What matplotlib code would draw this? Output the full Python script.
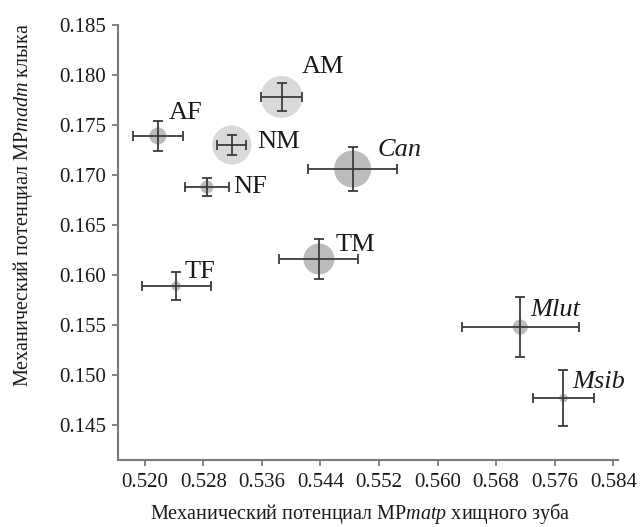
import numpy as np
import matplotlib
matplotlib.use("Agg")
import matplotlib.pyplot as plt

plt.rcParams['font.family'] = ['Liberation Serif', 'DejaVu Serif']
plt.rcParams['mathtext.fontset'] = 'custom'
plt.rcParams['mathtext.rm'] = 'Liberation Serif'
plt.rcParams['mathtext.it'] = 'Liberation Serif:italic'

# groups and values
groups = ['AF', 'AM', 'NM', 'NF', 'TF', 'TM', 'Can', 'Mlut', 'Msib']
matp = [0.5218, 0.5387, 0.5319, 0.5285, 0.5243, 0.5438, 0.5484, 0.5713, 0.5772]
madm = [0.1739, 0.1778, 0.1730, 0.1688, 0.1589, 0.1616, 0.1706, 0.1548, 0.1477]
matp_err = [0.0034, 0.0028, 0.0020, 0.0030, 0.0047, 0.0054, 0.0061, 0.0080, 0.0041]
madm_err = [0.0015, 0.0014, 0.0010, 0.0009, 0.0014, 0.0020, 0.0022, 0.0030, 0.0028]
bubble = [17, 42, 39, 13, 9.5, 31, 37, 15, 8.5]   # circle diameter, px
light = [False, True, True, False, False, False, False, False, False]
italic = [False, False, False, False, False, False, True, True, True]

# label offsets (px) from the point
offsets = {'AF': (11, 17), 'AM': (20, 24), 'NM': (25, -3), 'NF': (26, -6),
           'TF': (8, 8), 'TM': (17, 8), 'Can': (25, 13), 'Mlut': (10, 11),
           'Msib': (9, 10)}

fig = plt.figure(figsize=(6.41, 5.27), dpi=100)
ax = fig.add_axes([0.1846, 0.1271, 0.9636 - 0.1846, 0.9526 - 0.1271])

cols = ['#d9d9d9' if l else '#bcbcbc' for l in light]
sizes = (np.array(bubble) * 0.72) ** 2
ax.scatter(matp, madm, s=sizes, c=cols, edgecolors='none', zorder=2)
ax.errorbar(matp, madm, xerr=matp_err, yerr=madm_err, fmt='none',
            ecolor='#3c3c3c', elinewidth=1.3, capsize=3.5, capthick=1.3, zorder=3)

for i, g in enumerate(groups):
    ax.annotate(g, (matp[i], madm[i]), xytext=offsets[g], textcoords='offset pixels',
                ha='left', va='baseline', fontsize=19, color='#1a1a1a',
                style='italic' if italic[i] else 'normal')

ax.set_xlim(0.5164, 0.5846)
ax.set_ylim(0.1415, 0.185)
ax.set_xticks(np.arange(0.520, 0.5845, 0.008))
ax.set_yticks(np.arange(0.145, 0.1851, 0.005))
ax.xaxis.set_major_formatter(matplotlib.ticker.FormatStrFormatter('%.3f'))
ax.yaxis.set_major_formatter(matplotlib.ticker.FormatStrFormatter('%.3f'))

for s in ['top', 'right']:
    ax.spines[s].set_visible(False)
for s in ['left', 'bottom']:
    ax.spines[s].set_color('#7a7a7a')
    ax.spines[s].set_linewidth(1.5)
ax.tick_params(direction='out', length=4, width=1.3, color='#7a7a7a',
               labelsize=15, labelcolor='#1a1a1a', pad=5)

ax.set_xlabel(r'Механический потенциал MP$\mathit{matp}$ хищного зуба',
              fontsize=14.5, color='#1a1a1a')
ax.set_ylabel(r'Механический потенциал MP$\mathit{madm}$ клыка',
              fontsize=14.5, color='#1a1a1a')
ax.xaxis.set_label_coords(0.485, -0.094)
ax.yaxis.set_label_coords(-0.167, 0.586)

fig.savefig('out.png', dpi=100)
